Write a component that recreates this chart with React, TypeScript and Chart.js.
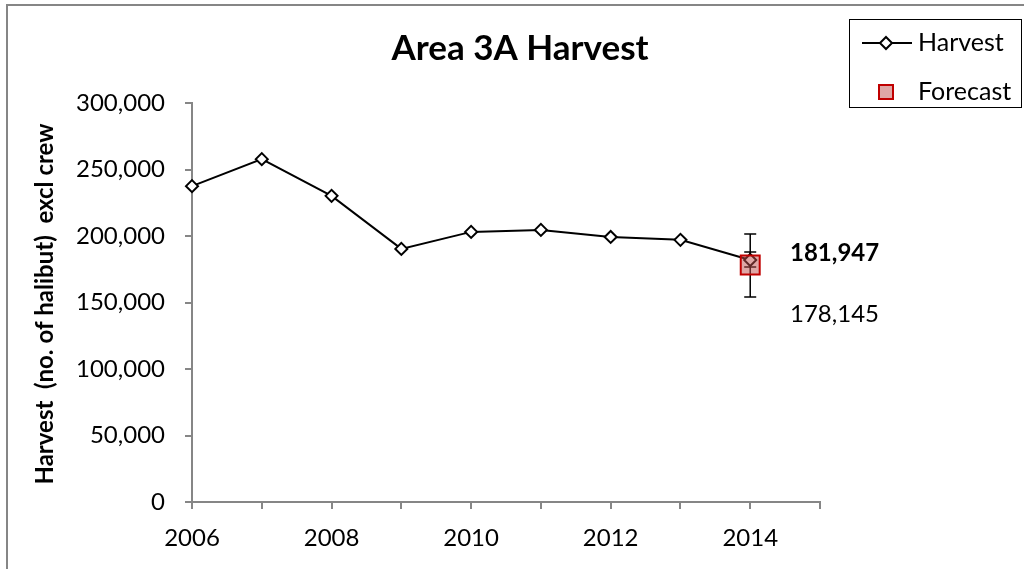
import React, { useEffect, useRef } from "react";
import { Chart, registerables } from "chart.js";

Chart.register(...registerables);

const years = [2006, 2007, 2008, 2009, 2010, 2011, 2012, 2013, 2014];
const harvest = [237500, 257800, 230200, 190300, 203100, 204600, 199300, 197100, 181947];
const forecastYear = 2014;
const forecastValue = 178145;
const forecastLow = 154100;
const forecastHigh = 201500;
const harvestErrLow = 176700;
const harvestErrHigh = 188000;
const yTicks = [0, 50000, 100000, 150000, 200000, 250000, 300000];
const xTickYears = [2006, 2007, 2008, 2009, 2010, 2011, 2012, 2013, 2014, 2015];
const xLabelYears = [2006, 2008, 2010, 2012, 2014];
const titleText = "Area 3A Harvest";
const yTitle = "Harvest  (no. of halibut)  excl crew";
const labelHarvest = "181,947";
const labelForecast = "178,145";

const FONT = "Lato, 'Open Sans', sans-serif";
const fmt = (v: number) => v.toLocaleString("en-US");

export default function App() {
  const ref = useRef<HTMLCanvasElement | null>(null);
  useEffect(() => {
    if (!ref.current) return;
    const deco = {
      id: "deco",
      beforeDraw(chart: any) {
        const ctx = chart.ctx;
        ctx.save();
        ctx.fillStyle = "#ffffff";
        ctx.fillRect(0, 0, chart.width, chart.height);
        ctx.strokeStyle = "#868686";
        ctx.lineWidth = 2;
        ctx.strokeRect(7, 5, 1100, 700);
        ctx.restore();
      },
      beforeDatasetsDraw(chart: any) {
        const ctx = chart.ctx;
        const xs = chart.scales.x;
        const ys = chart.scales.y;
        ctx.save();
        ctx.strokeStyle = "#000";
        ctx.lineWidth = 1.5;
        const bar = (x: number, lo: number, hi: number, w: number) => {
          const px = xs.getPixelForValue(x);
          const pl = ys.getPixelForValue(lo);
          const ph = ys.getPixelForValue(hi);
          ctx.beginPath();
          ctx.moveTo(px, pl);
          ctx.lineTo(px, ph);
          ctx.moveTo(px - w, pl);
          ctx.lineTo(px + w, pl);
          ctx.moveTo(px - w, ph);
          ctx.lineTo(px + w, ph);
          ctx.stroke();
        };
        bar(forecastYear, forecastLow, forecastHigh, 6);
        bar(years[years.length - 1], harvestErrLow, harvestErrHigh, 6);
        ctx.restore();
      },
      afterDraw(chart: any) {
        const ctx = chart.ctx;
        const ys = chart.scales.y;
        ctx.save();
        ctx.fillStyle = "#000";
        ctx.textBaseline = "middle";
        ctx.textAlign = "center";
        ctx.font = `bold 35px ${FONT}`;
        ctx.fillText(titleText, 520, 49);
        // y title
        ctx.save();
        ctx.translate(45, 304);
        ctx.rotate(-Math.PI / 2);
        ctx.font = `bold 24px ${FONT}`;
        ctx.fillText(yTitle, 0, 0);
        ctx.restore();
        // annotations
        ctx.textAlign = "left";
        ctx.font = `bold 24px ${FONT}`;
        ctx.fillText(labelHarvest, 790, ys.getPixelForValue(181947) - 7);
        ctx.font = `24px ${FONT}`;
        ctx.fillText(labelForecast, 790, 314);
        // legend
        ctx.strokeStyle = "#000";
        ctx.lineWidth = 1;
        ctx.strokeRect(849.5, 19.5, 172, 88);
        ctx.lineWidth = 2;
        ctx.beginPath();
        ctx.moveTo(862, 43);
        ctx.lineTo(912, 43);
        ctx.stroke();
        ctx.fillStyle = "#fff";
        ctx.beginPath();
        ctx.moveTo(886, 37);
        ctx.lineTo(892, 43);
        ctx.lineTo(886, 49);
        ctx.lineTo(880, 43);
        ctx.closePath();
        ctx.fill();
        ctx.stroke();
        ctx.fillStyle = "rgba(192,80,77,0.5)";
        ctx.strokeStyle = "#c00000";
        ctx.fillRect(879, 85, 14, 14);
        ctx.strokeRect(879, 85, 14, 14);
        ctx.fillStyle = "#000";
        ctx.font = `25px ${FONT}`;
        ctx.fillText("Harvest", 918, 43);
        ctx.fillText("Forecast", 918, 92);
        ctx.restore();
      },
    };
    const chart = new Chart(ref.current, {
      type: "line",
      data: {
        datasets: [
          {
            label: "Forecast",
            data: [{ x: forecastYear, y: forecastValue }],
            showLine: false,
            pointStyle: "rect",
            pointRadius: 13.4,
            pointBackgroundColor: "rgba(192,80,77,0.5)",
            pointBorderColor: "#c00000",
            pointBorderWidth: 2,
            clip: false,
            order: 0,
          },
          {
            label: "Harvest",
            data: years.map((y, i) => ({ x: y, y: harvest[i] })),
            borderColor: "#000",
            borderWidth: 2,
            pointStyle: "rectRot",
            pointRadius: 6,
            pointBackgroundColor: "#fff",
            pointBorderColor: "#000",
            pointBorderWidth: 2,
            tension: 0,
            clip: false,
            order: 1,
          },
        ],
      },
      options: {
        responsive: false,
        animation: false,
        devicePixelRatio: 1,
        layout: { padding: { left: 0, top: 103, right: 204, bottom: 0 } },
        plugins: { legend: { display: false }, title: { display: false }, tooltip: { enabled: false } },
        scales: {
          x: {
            type: "linear",
            min: 2006,
            max: 2015,
            afterBuildTicks(scale: any) {
              scale.ticks = xTickYears.map((v) => ({ value: v }));
            },
            afterFit(scale: any) {
              scale.height = 67;
            },
            ticks: {
              autoSkip: false,
              maxRotation: 0,
              color: "#000",
              padding: 15,
              font: { family: FONT, size: 24 },
              callback: (v: any) => (xLabelYears.includes(Number(v)) ? String(v) : ""),
            },
            grid: { drawOnChartArea: false, tickLength: 7, color: "#868686", lineWidth: 2 },
            border: { color: "#868686", width: 2 },
          },
          y: {
            min: 0,
            max: 300000,
            afterBuildTicks(scale: any) {
              scale.ticks = yTicks.map((v) => ({ value: v }));
            },
            afterFit(scale: any) {
              scale.width = 192;
            },
            ticks: {
              color: "#000",
              padding: 20,
              font: { family: FONT, size: 24 },
              callback: (v: any) => fmt(Number(v)),
            },
            grid: { drawOnChartArea: false, tickLength: 7, color: "#868686", lineWidth: 2 },
            border: { color: "#868686", width: 2 },
          },
        },
      },
      plugins: [deco],
    });
    return () => chart.destroy();
  }, []);
  return (
    <div style={{ position: "fixed", left: 0, top: 0, width: 1024, height: 569, background: "#fff" }}>
      <canvas ref={ref} width={1024} height={569} style={{ width: 1024, height: 569, display: "block" }} />
    </div>
  );
}
